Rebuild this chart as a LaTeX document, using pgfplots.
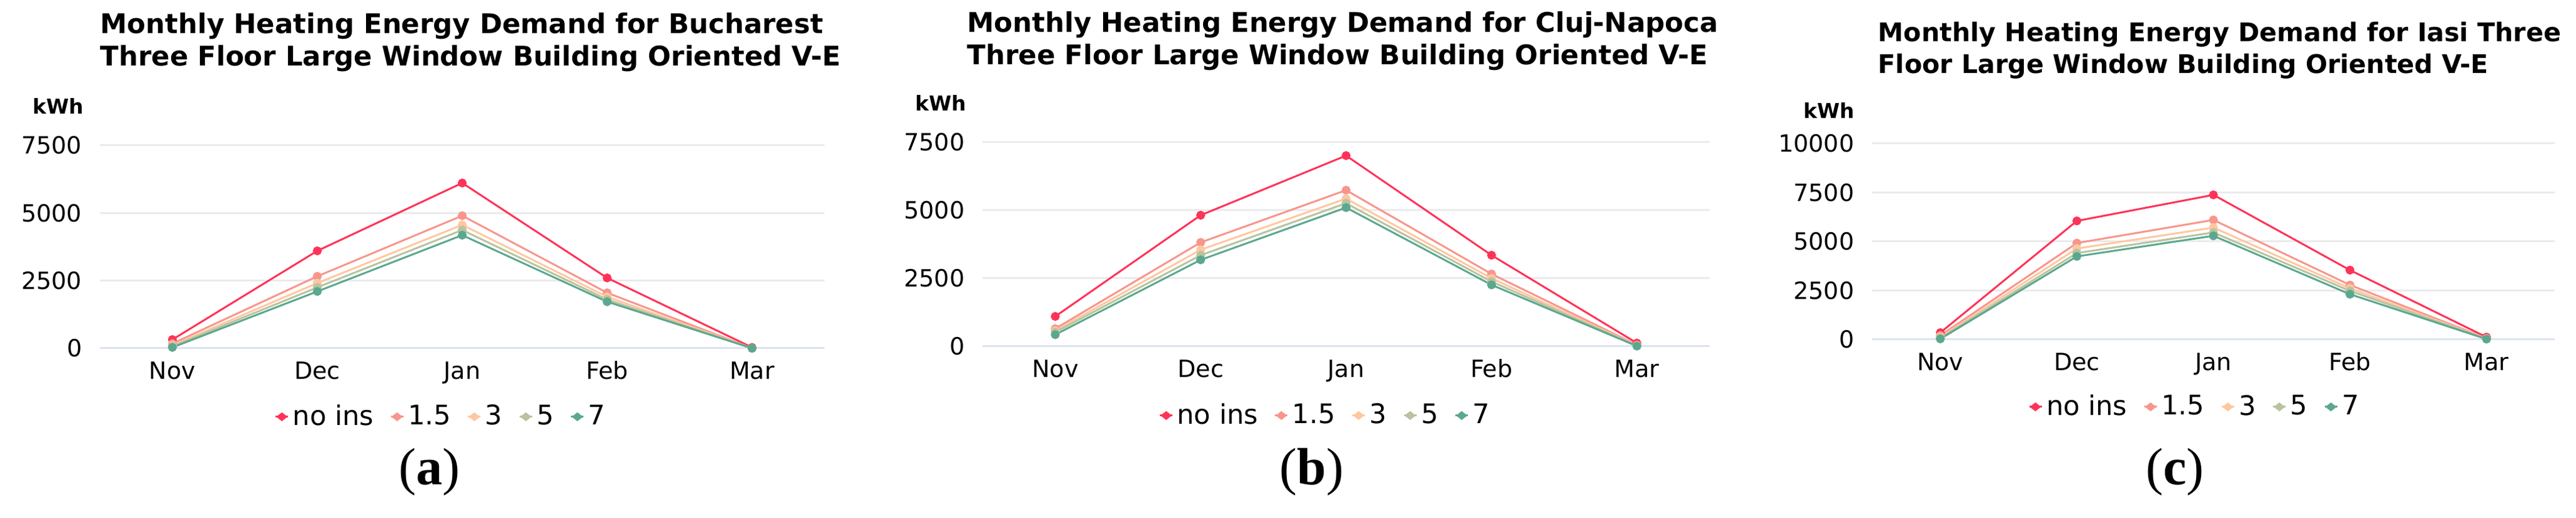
\documentclass[border=0pt]{standalone}
\usepackage{pgfplots}
\pgfplotsset{compat=1.18}
\usepackage{fontspec}
\setmainfont{DejaVu Sans}
\newfontfamily\capfont{Liberation Serif}

\definecolor{cNo}{HTML}{FF3358}
\definecolor{cA}{HTML}{F7968C}
\definecolor{cB}{HTML}{FFC7A0}
\definecolor{cC}{HTML}{B8C3A0}
\definecolor{cD}{HTML}{5BA88E}
\definecolor{gridc}{HTML}{EBEBEB}
\definecolor{zeroc}{HTML}{DCE3F0}

\newcommand{\gap}{\rule{5pt}{0pt}}

\pgfplotsset{
  heat/.style={
    scale only axis,
    anchor=south west,
    xmin=-0.5, xmax=4.5, ymin=0,
    xtick={0,...,4},
    xticklabels={Nov,Dec,Jan,Feb,Mar},
    axis line style={draw=none},
    major tick length=0pt,
    ymajorgrids,
    grid style={gridc, line width=0.75pt},
    extra y ticks={0},
    extra y tick style={grid style={zeroc, line width=0.75pt}},
    scaled y ticks=false,
    clip=false,
    /pgf/number format/assume math mode=true,
    /pgf/number format/set thousands separator={},
    yticklabel style={font=\fontsize{9.5}{10}\selectfont, anchor=east, inner sep=0pt, xshift=-7pt},
    xticklabel style={font=\fontsize{9.5}{10}\selectfont, anchor=base, inner sep=0pt, yshift=-12.3pt},
    ylabel={kWh},
    ylabel style={rotate=-90, anchor=base east, inner sep=0pt, font=\bfseries\fontsize{8.2}{9}\selectfont},
    title style={anchor=north west, align=left, inner sep=0pt, font=\bfseries\fontsize{10.85}{13}\selectfont},
    legend columns=-1,
    legend style={anchor=west, draw=none, fill=none, inner sep=0pt, column sep=1.5pt,
      nodes={inner sep=0pt, font=\fontsize{10.8}{11}\selectfont}},
    legend image code/.code={
      \draw[##1, mark=none] (0pt,0pt) -- (5pt,0pt);
      \draw[##1, only marks, mark=diamond*, mark size=1.3pt, mark options={xscale=1.7}] plot coordinates {(2.5pt,0pt)};
    },
    every axis plot/.append style={line width=0.75pt, mark=*, mark size=1.4pt, mark options={solid}},
  }
}

\begin{document}
\begin{tikzpicture}
\useasboundingbox (0,0) rectangle (1031pt,207.5pt);

% (a) Bucharest
\begin{axis}[heat,
  at={(40pt,68pt)}, width=290pt, height=81.25pt,
  ymax=7500, ytick={2500,5000,7500},
  title={Monthly Heating Energy Demand for Bucharest\\Three Floor Large Window Building Oriented V-E},
  title style={at={(axis description cs:0,1.5815)}},
  ylabel style={at={(axis description cs:-0.0216,1.154)}},
  legend style={at={(axis description cs:0.2405,-0.338)}},
]
\addplot[color=cNo] coordinates {(0,320) (1,3600) (2,6110) (3,2600) (4,30)};
\addlegendentry{no ins\gap}
\addplot[color=cA] coordinates {(0,170) (1,2660) (2,4900) (3,2050) (4,0)};
\addlegendentry{1.5\gap}
\addplot[color=cB] coordinates {(0,110) (1,2410) (2,4560) (3,1900) (4,0)};
\addlegendentry{3\gap}
\addplot[color=cC] coordinates {(0,70) (1,2250) (2,4370) (3,1800) (4,0)};
\addlegendentry{5\gap}
\addplot[color=cD] coordinates {(0,30) (1,2100) (2,4180) (3,1720) (4,0)};
\addlegendentry{7}
\end{axis}

% (b) Cluj-Napoca
\begin{axis}[heat,
  at={(393.25pt,68.75pt)}, width=291pt, height=81.75pt,
  ymax=7500, ytick={2500,5000,7500},
  title={Monthly Heating Energy Demand for Cluj-Napoca\\Three Floor Large Window Building Oriented V-E},
  title style={at={(axis description cs:-0.0215,1.570)}},
  ylabel style={at={(axis description cs:-0.0215,1.153)}},
  legend style={at={(axis description cs:0.242,-0.339)}},
]
\addplot[color=cNo] coordinates {(0,1100) (1,4820) (2,7010) (3,3350) (4,120)};
\addlegendentry{no ins\gap}
\addplot[color=cA] coordinates {(0,650) (1,3820) (2,5740) (3,2660) (4,50)};
\addlegendentry{1.5\gap}
\addplot[color=cB] coordinates {(0,580) (1,3550) (2,5430) (3,2500) (4,30)};
\addlegendentry{3\gap}
\addplot[color=cC] coordinates {(0,520) (1,3350) (2,5260) (3,2380) (4,20)};
\addlegendentry{5\gap}
\addplot[color=cD] coordinates {(0,430) (1,3180) (2,5100) (3,2260) (4,10)};
\addlegendentry{7}
\end{axis}

% (c) Iasi
\begin{axis}[heat,
  at={(749.25pt,71.5pt)}, width=273.25pt, height=78.5pt,
  ymax=10000, ytick={2500,5000,7500,10000},
  title={Monthly Heating Energy Demand for Iasi Three\\Floor Large Window Building Oriented V-E},
  title style={at={(axis description cs:0.0082,1.545)}, font=\bfseries\fontsize{10.3}{12.75}\selectfont},
  ylabel style={at={(axis description cs:-0.0247,1.13)}},
  legend style={at={(axis description cs:0.228,-0.344)}},
]
\addplot[color=cNo] coordinates {(0,350) (1,6050) (2,7380) (3,3540) (4,120)};
\addlegendentry{no ins\gap}
\addplot[color=cA] coordinates {(0,200) (1,4920) (2,6100) (3,2780) (4,60)};
\addlegendentry{1.5\gap}
\addplot[color=cB] coordinates {(0,130) (1,4640) (2,5710) (3,2610) (4,40)};
\addlegendentry{3\gap}
\addplot[color=cC] coordinates {(0,80) (1,4410) (2,5460) (3,2480) (4,30)};
\addlegendentry{5\gap}
\addplot[color=cD] coordinates {(0,30) (1,4240) (2,5290) (3,2310) (4,20)};
\addlegendentry{7}
\end{axis}

\node[font=\capfont\fontsize{21}{24}\selectfont, anchor=base] at (171.75pt,13.25pt) {(\textbf{a})};
\node[font=\capfont\fontsize{21}{24}\selectfont, anchor=base] at (525pt,13.25pt) {(\textbf{b})};
\node[font=\capfont\fontsize{21}{24}\selectfont, anchor=base] at (870.5pt,13.25pt) {(\textbf{c})};
\end{tikzpicture}
\end{document}
